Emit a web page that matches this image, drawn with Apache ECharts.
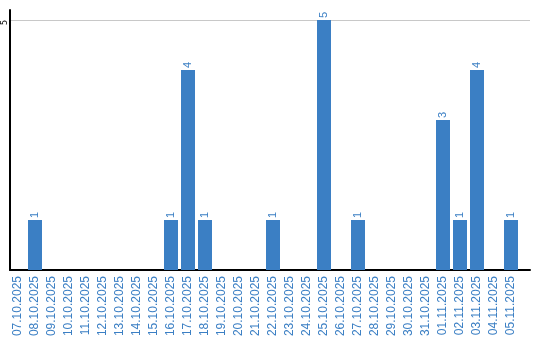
<!DOCTYPE html>
<html><head><meta charset="utf-8">
<script src="https://cdn.jsdelivr.net/npm/echarts@6/dist/echarts.min.js"></script>
<style>html,body{margin:0;padding:0;background:#fff}#c{width:540px;height:340px}</style>
</head><body><div id="c"></div>
<script>
const categories = ["07.10.2025","08.10.2025","09.10.2025","10.10.2025","11.10.2025","12.10.2025","13.10.2025","14.10.2025","15.10.2025","16.10.2025","17.10.2025","18.10.2025","19.10.2025","20.10.2025","21.10.2025","22.10.2025","23.10.2025","24.10.2025","25.10.2025","26.10.2025","27.10.2025","28.10.2025","29.10.2025","30.10.2025","31.10.2025","01.11.2025","02.11.2025","03.11.2025","04.11.2025","05.11.2025"];
const values = [0,1,0,0,0,0,0,0,0,1,4,1,0,0,0,1,0,0,5,0,1,0,0,0,0,3,1,4,0,1];
const yTicks = [5];

const blue = '#3b7fc4';
const chart = echarts.init(document.getElementById('c'), null, {renderer:'canvas'});
chart.setOption({
  animation:false,
  grid:[
    {left:10,width:520,top:10,bottom:70,containLabel:false,outerBoundsMode:'none'},
    {left:9.5,width:510,top:10,bottom:70,containLabel:false,outerBoundsMode:'none'}
  ],
  xAxis:[
    {gridIndex:0,type:'category',data:categories,
      axisLine:{lineStyle:{color:'#000',width:2}},
      axisTick:{show:false},axisLabel:{show:false},splitLine:{show:false}},
    {gridIndex:1,type:'category',data:categories,
      axisLine:{show:false},axisTick:{show:false},
      axisLabel:{rotate:90,interval:0,color:blue,fontFamily:'Liberation Sans',fontSize:12,margin:6}}
  ],
  yAxis:[
    {gridIndex:0,type:'value',min:0,max:5.2,interval:5,
      axisLine:{show:true,lineStyle:{color:'#000',width:2}},
      axisTick:{show:false},
      splitLine:{show:true,showMinLine:false,showMaxLine:false,lineStyle:{color:'#c8c8c8',width:1}},
      axisLabel:{rotate:90,color:'#000',fontFamily:'DejaVu Sans',fontSize:8,margin:5,
        align:'right',verticalAlign:'middle',showMaxLabel:false,
        formatter:v=>yTicks.includes(v)?String(v):''}},
    {gridIndex:1,type:'value',min:0,max:5.2,interval:5,show:false,
      splitLine:{show:false}}
  ],
  series:[{type:'bar',xAxisIndex:1,yAxisIndex:1,data:values.map(v=>v===0?null:v),barWidth:14,
    itemStyle:{color:blue},
    label:{show:true,position:'top',rotate:90,align:'left',verticalAlign:'middle',distance:2,
      color:blue,fontFamily:'Liberation Sans',fontSize:11}}]
});
</script></body></html>
